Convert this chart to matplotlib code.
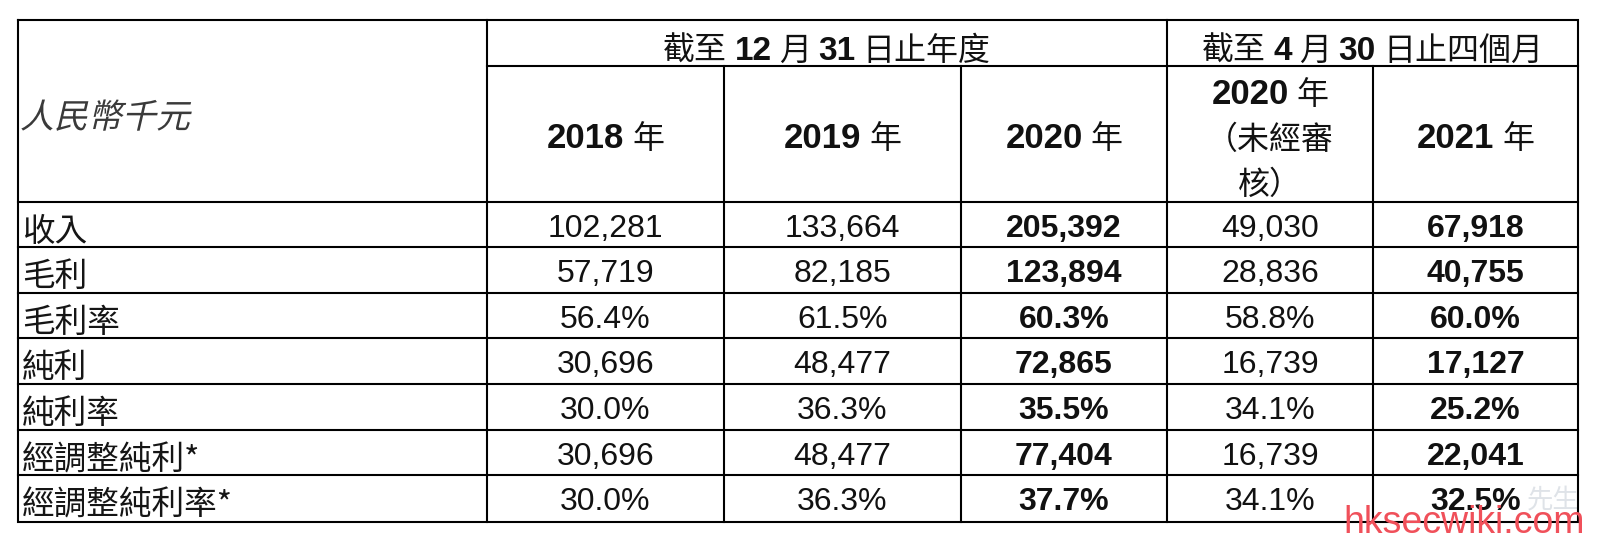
import matplotlib
matplotlib.use("Agg")
import matplotlib.pyplot as plt
from matplotlib.textpath import TextPath
from matplotlib.patches import PathPatch
from matplotlib.font_manager import FontProperties
from matplotlib.transforms import Affine2D

# 表格数据
unit_label = "人民幣千元"
group_titles = ["截至 12 月 31 日止年度", "截至 4 月 30 日止四個月"]
col_titles = [["2018 年"], ["2019 年"], ["2020 年"],
              ["2020 年", "（未經審", "核）"], ["2021 年"]]
row_labels = ["收入", "毛利", "毛利率", "純利", "純利率", "經調整純利*", "經調整純利率*"]
is_pct = [False, False, True, False, True, False, True]
revenue = [102281, 133664, 205392, 49030, 67918]
gross_profit = [57719, 82185, 123894, 28836, 40755]
gross_margin = [56.4, 61.5, 60.3, 58.8, 60.0]
net_profit = [30696, 48477, 72865, 16739, 17127]
net_margin = [30.0, 36.3, 35.5, 34.1, 25.2]
adj_profit = [30696, 48477, 77404, 16739, 22041]
adj_margin = [30.0, 36.3, 37.7, 34.1, 32.5]
table = [revenue, gross_profit, gross_margin, net_profit, net_margin, adj_profit, adj_margin]
bold_cols = [2, 4]

# 版面 (像素)
xs = [18, 487, 724, 961, 1167, 1373, 1578]
y_top, y_mid, y_head = 20, 66, 202
row_lines = [202, 247, 293, 338, 384, 430, 475, 522]

CJK = "Noto Sans CJK TC"
LAT = "Liberation Sans"
LW = 1.5

fig = plt.figure(figsize=(16, 5.44), dpi=100)
ax = fig.add_axes([0, 0, 1, 1])
ax.set_xlim(0, 1600)
ax.set_ylim(544, 0)
ax.axis("off")
renderer = fig.canvas.get_renderer()

# 网格线
ax.plot([xs[0], xs[-1], xs[-1], xs[0], xs[0]], [y_top, y_top, row_lines[-1], row_lines[-1], y_top],
        color="black", lw=LW, solid_joinstyle="miter")
ax.plot([xs[1], xs[-1]], [y_mid, y_mid], color="black", lw=LW)
for y in row_lines[:-1]:
    ax.plot([xs[0], xs[-1]], [y, y], color="black", lw=LW)
for x in [xs[1], xs[4]]:
    ax.plot([x, x], [y_top, row_lines[-1]], color="black", lw=LW)
for x in [xs[2], xs[3], xs[5]]:
    ax.plot([x, x], [y_mid, row_lines[-1]], color="black", lw=LW)


def is_cjk(s):
    return any(ord(c) > 0x2E80 for c in s)


def runs_text(xc, base, s, size_lat, size_cjk):
    # 中文常规字体, 数字粗体; 逐段测宽后居中排列
    tokens = s.split(" ")
    gap = 0.22 * size_lat * 100 / 72
    arts = []
    for tk in tokens:
        if is_cjk(tk):
            t = ax.text(0, base, tk, family=[CJK], fontsize=size_cjk, va="baseline", ha="left", color="#111111")
        else:
            t = ax.text(0, base, tk, family=[LAT], fontsize=size_lat, va="baseline", ha="left",
                        fontweight="bold", color="#111111")
        w = t.get_window_extent(renderer).width
        arts.append((t, w))
    total = sum(w for _, w in arts) + gap * (len(arts) - 1)
    x = xc - total / 2
    for t, w in arts:
        t.set_x(x)
        x += w + gap


# 表头第一行
runs_text((xs[1] + xs[4]) / 2, 60, group_titles[0], 24, 23)
runs_text((xs[4] + xs[6]) / 2, 60, group_titles[1], 24, 23)

# 表头第二行
for j, lines in enumerate(col_titles):
    xc = (xs[j + 1] + xs[j + 2]) / 2
    if len(lines) == 1:
        runs_text(xc, 148, lines[0], 25, 23)
    else:
        for k, ln in enumerate(lines):
            runs_text(xc, 104 + 45 * k, ln, 25, 23)

# 斜体单位
path = TextPath((0, 0), unit_label, size=34, prop=FontProperties(family=CJK, weight="light"))
tr = Affine2D().skew_deg(13, 0).scale(1, -1).translate(20, 128)
ax.add_patch(PathPatch(path, transform=tr + ax.transData, facecolor="#3a3a3a", lw=0))

# 数据行
for i, lab in enumerate(row_labels):
    y0, y1 = row_lines[i], row_lines[i + 1]
    ax.text(22, y0 + 39, lab, family=[CJK, "DejaVu Sans"], fontsize=23.5, va="baseline", ha="left",
            color="#151515")
    for j, v in enumerate(table[i]):
        txt = f"{v:.1f}%" if is_pct[i] else f"{v:,}"
        ax.text((xs[j + 1] + xs[j + 2]) / 2, y0 + 35, txt, family=[LAT], fontsize=23, va="baseline",
                ha="center", fontweight="bold" if j in bold_cols else "normal", color="#111111")

# 水印
ax.text(1527, 508, "先生", family=[CJK], fontsize=19, va="baseline", ha="left", color="#dfe3e8", zorder=0)
ax.text(1343, 533, "hksecwiki.com", family=[LAT], fontsize=27, va="baseline", ha="left",
        color="#f0505a", zorder=5)

fig.savefig("out.png", dpi=100, facecolor="white")
